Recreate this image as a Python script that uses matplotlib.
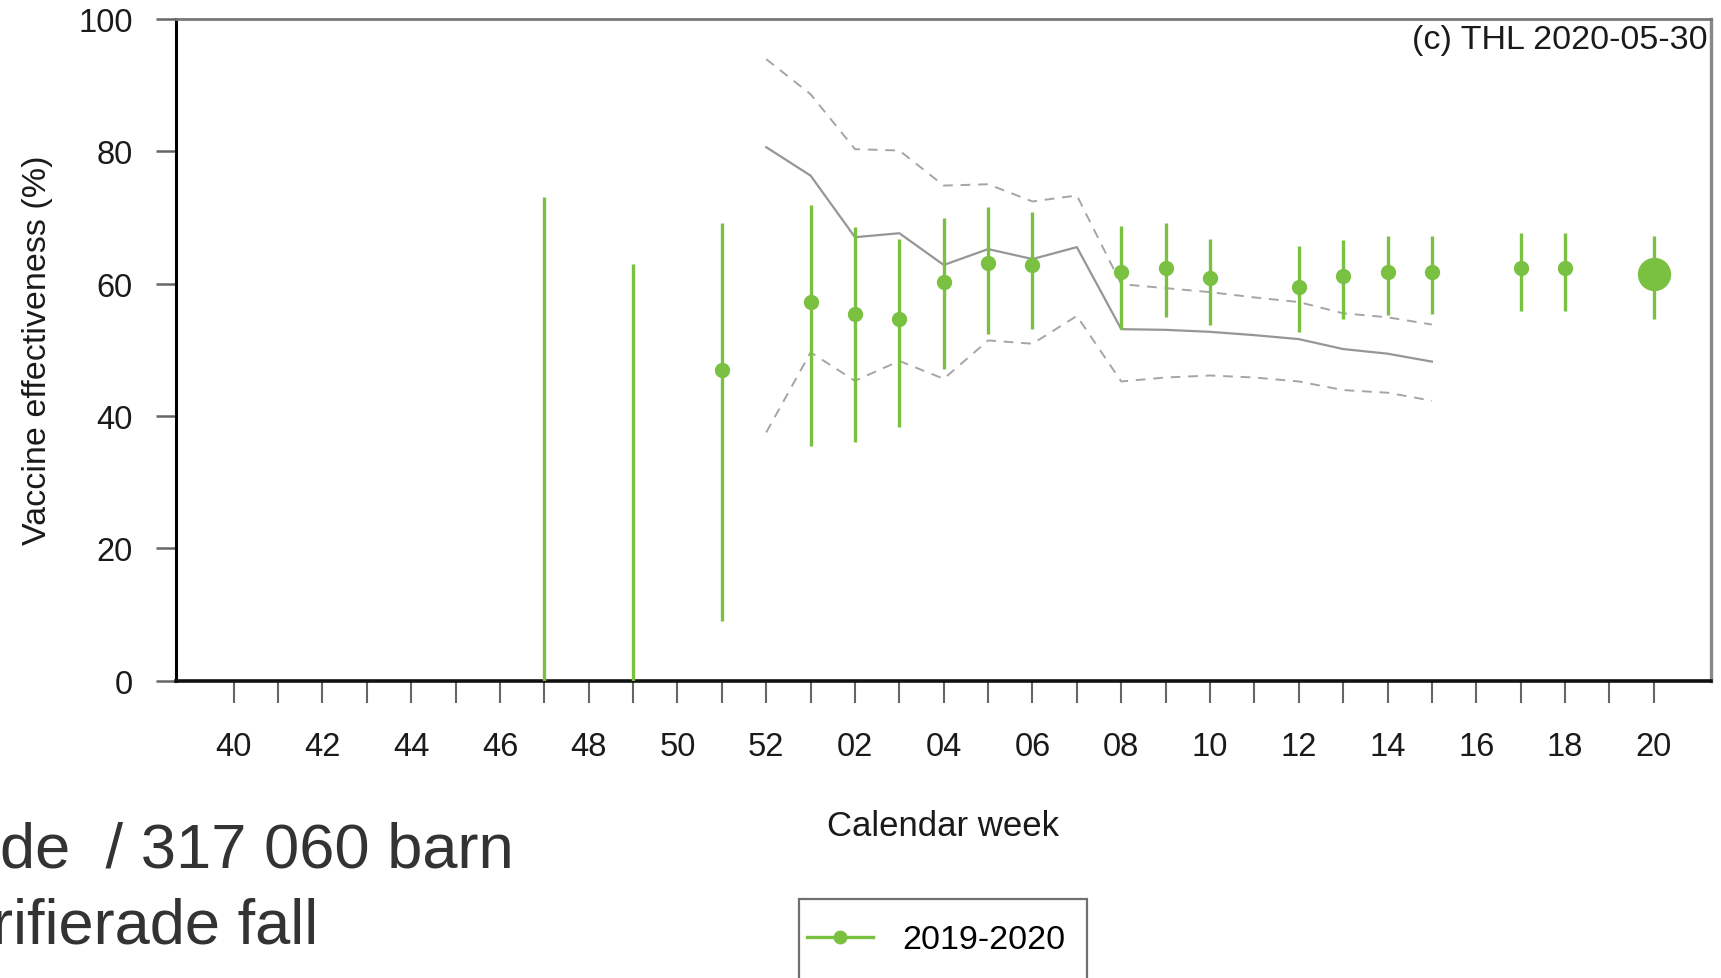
#!/usr/bin/env python3
import matplotlib
matplotlib.use("Agg")
import matplotlib.pyplot as plt
from matplotlib.lines import Line2D
from matplotlib.patches import Rectangle

plt.rcParams["font.family"] = ["Liberation Sans", "DejaVu Sans"]

COL_VE      = (122/255.0, 193/255.0,  66/255.0)
COL_REF     = (150/255.0, 150/255.0, 150/255.0)
COL_REF_CI  = (165/255.0, 165/255.0, 165/255.0)
COL_TEXT    = (26/255.0,   26/255.0,  26/255.0)
COL_BIGTEXT = (51/255.0,   51/255.0,  51/255.0)

# calendar weeks along the x axis (season 2019-2020)
all_weeks = list(range(40, 53)) + list(range(1, 21))

# weekly VE estimates (%) with 95% CI
ve_weeks = [51, 1, 2, 3, 4, 5, 6, 8, 9, 10, 12, 13, 14, 15, 17, 18, 20]
ve       = [47.0, 57.2, 55.4, 54.7, 60.2, 63.1, 62.8, 61.8, 62.4, 60.9, 59.5, 61.1, 61.7, 61.8, 62.3, 62.3, 61.4]
ve_low   = [9.0, 35.5, 36.1, 38.3, 47.1, 52.4, 53.2, 53.1, 54.9, 53.7, 52.7, 54.6, 55.2, 55.4, 55.8, 55.8, 54.6]
ve_high  = [69.2, 71.8, 68.6, 66.8, 69.9, 71.5, 70.8, 68.7, 69.1, 66.8, 65.6, 66.6, 67.2, 67.2, 67.7, 67.7, 67.2]

# weeks where only the interval is visible (estimate off the scale)
ci_only_weeks = [47, 49]
ci_only_low   = [0.0, 0.0]
ci_only_high  = [73.1, 63.0]

# grey reference curve with its band
ref_weeks = [52, 1, 2, 3, 4, 5, 6, 7, 8, 9, 10, 11, 12, 13, 14, 15]
ref_mid   = [80.6, 76.3, 67.0, 67.6, 62.8, 65.2, 63.7, 65.5, 53.1, 53.0, 52.7, 52.2, 51.6, 50.1, 49.4, 48.2]
ref_high  = [93.9, 88.6, 80.3, 80.1, 74.8, 75.0, 72.4, 73.3, 59.9, 59.3, 58.7, 57.9, 57.2, 55.5, 54.9, 53.8]
ref_low   = [37.5, 49.6, 45.3, 48.3, 45.6, 51.4, 50.9, 55.1, 45.2, 45.8, 46.1, 45.8, 45.2, 43.9, 43.5, 42.3]

season_label = "2019-2020"
credit = "(c) THL 2020-05-30"
footer_lines = ["de  / 317 060 barn", "rifierade fall"]


def week_pos(weeks):
    return [all_weeks.index(w) for w in weeks]


def main():
    W, H = 1721, 979
    fig = plt.figure(figsize=(W / 100.0, H / 100.0), dpi=100)
    ax = fig.add_axes([175.6 / W, 1 - 681.6 / H, (1711 - 175.6) / W, (681.6 - 19.8) / H])

    # reference curve and band
    rx = week_pos(ref_weeks)
    ax.plot(rx, ref_mid, color=COL_REF, lw=1.6, zorder=2)
    ax.plot(rx, ref_high, color=COL_REF_CI, lw=1.4, linestyle=(0, (5, 4)), zorder=2)
    ax.plot(rx, ref_low, color=COL_REF_CI, lw=1.4, linestyle=(0, (5, 4)), zorder=2)

    # intervals and estimates
    ax.vlines(week_pos(ci_only_weeks), ci_only_low, ci_only_high, color=COL_VE, lw=2.4, zorder=3)
    vx = week_pos(ve_weeks)
    ax.vlines(vx, ve_low, ve_high, color=COL_VE, lw=2.4, zorder=3)
    ax.plot(vx[:-1], ve[:-1], "o", color=COL_VE, ms=10, zorder=4)
    # last week is the whole-season estimate, drawn bigger
    ax.plot(vx[-1:], ve[-1:], "o", color=COL_VE, ms=23, zorder=4)

    ax.set_xlim(-1.31, 33.29)
    ax.set_ylim(0, 100)

    ax.set_xticks(range(len(all_weeks)))
    ax.set_xticklabels([f"{w:02d}" if w % 2 == 0 else "" for w in all_weeks])
    ax.set_yticks([0, 20, 40, 60, 80, 100])

    ax.tick_params(axis="x", length=15.8, width=1.5, color="#666666", pad=20.3,
                   labelsize=23.5, labelcolor=COL_TEXT)
    ax.tick_params(axis="y", length=14.4, width=1.8, color="#666666", pad=16.5,
                   labelsize=23.5, labelcolor=COL_TEXT)

    ax.spines["left"].set_color("black")
    ax.spines["left"].set_linewidth(2.2)
    ax.spines["bottom"].set_color("#111111")
    ax.spines["bottom"].set_linewidth(2.6)
    ax.spines["top"].set_color("#777777")
    ax.spines["top"].set_linewidth(2.0)
    ax.spines["right"].set_color("#888888")
    ax.spines["right"].set_linewidth(2.4)

    ax.set_xlabel("Calendar week", fontsize=25, color=COL_TEXT)
    ax.xaxis.label.set_va("center")
    ax.xaxis.set_label_coords(0.5, (681.6 - 826.5) / 661.8)
    ax.set_ylabel("Vaccine effectiveness (%)", fontsize=24.5, color=COL_TEXT)
    ax.yaxis.label.set_va("center")
    ax.yaxis.set_label_coords((38 - 175.6) / 1535.4, 0.5)

    ax.text(0.998, (681.6 - 40.6) / 661.8, credit, transform=ax.transAxes,
            ha="right", va="center", fontsize=24.5, color=COL_TEXT)

    # legend box runs off the bottom of the image, so draw its frame by hand
    frame = Rectangle((799 / W, 1 - 1000 / H), 288 / W, 100 / H, transform=fig.transFigure,
                      facecolor="white", edgecolor="#707070", lw=1.6, clip_on=False, zorder=1)
    fig.add_artist(frame)
    handle = Line2D([], [], color=COL_VE, lw=2.4, marker="o", ms=9, label=season_label)
    fig.legend(handles=[handle], loc="center left", bbox_to_anchor=(807 / W, 1 - 941 / H),
               frameon=False, fontsize=24.5, handlelength=1.94, handletextpad=0.85,
               borderpad=0, borderaxespad=0)

    # slide text overlapping the lower left corner (cut at the left edge)
    fig.text(0.0, 1 - 868 / H, footer_lines[0], ha="left", va="baseline",
             fontsize=45.5, color=COL_BIGTEXT)
    fig.text(-8 / W, 1 - 944 / H, footer_lines[1], ha="left", va="baseline",
             fontsize=45.5, color=COL_BIGTEXT)

    fig.savefig("out.png", dpi=100)
    plt.close(fig)


if __name__ == "__main__":
    main()
